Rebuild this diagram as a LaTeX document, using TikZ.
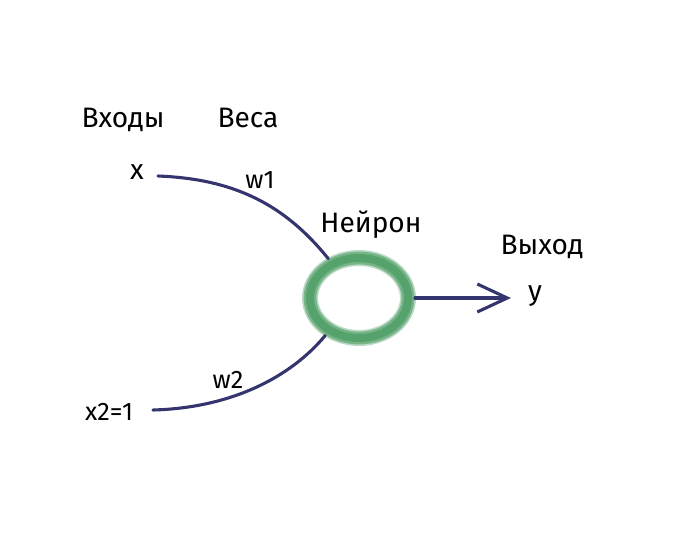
\documentclass[tikz,border=0pt]{standalone}
\usepackage{fontspec}
\setmainfont{Fira Sans}
\usetikzlibrary{shapes.geometric}
\usetikzlibrary{arrows.meta}
\definecolor{wire}{RGB}{52,52,110}
\definecolor{leaf}{RGB}{62,150,88}

\begin{document}
\begin{tikzpicture}[x=0.025cm, y=-0.025cm,
    lbl/.style={font=\fontsize{20}{24}\selectfont, inner sep=0pt},
    small/.style={font=\fontsize{18}{21}\selectfont, inner sep=0pt},
    wire/.style={draw=wire, line width=2.2pt, line cap=round}]
    \useasboundingbox (0,0) rectangle (696,538);
    % labels
    \node[lbl] (inputs) at (123,120) {Входы};
    \node[lbl] (weights) at (248,118) {Веса};
    \node[lbl] (x) at (137,172) {x};
    \node[small] (w1) at (260,180) {w1};
    \node[lbl] (neuronlbl) at (371,225) {Нейрон};
    \node[lbl] (outlbl) at (542,247) {Выход};
    \node[lbl] (y) at (535,296) {y};
    \node[small] (w2) at (228,380) {w2};
    \node[small] (x2) at (109,412) {x2=1};
    % neuron
    \node[ellipse, minimum width=2.8cm, minimum height=2.35cm, inner sep=0pt, outer sep=0pt] (neuron) at (359,298) {};
    \draw[leaf, line width=0.40cm, opacity=0.35] (neuron.center) ellipse (49 and 40);
    \draw[leaf, line width=0.32cm, opacity=0.55] (neuron.center) ellipse (49 and 40);
    \draw[leaf, line width=0.2cm, opacity=0.6] (neuron.center) ellipse (49 and 40);
    % connectors
    \coordinate (in1) at (158,176);
    \coordinate (in2) at (153,410);
    \draw[wire] (in1) .. controls (235,179) and (285,205) .. (neuron.128);
    \draw[wire] (in2) .. controls (230,408) and (290,378) .. (neuron.228);
    \draw[wire, shorten >=12pt, -{Straight Barb[length=0.75cm, width=0.7cm, line width=2.2pt]}] (neuron.east) -- (neuron.east -| y.west);
\end{tikzpicture}
\end{document}
